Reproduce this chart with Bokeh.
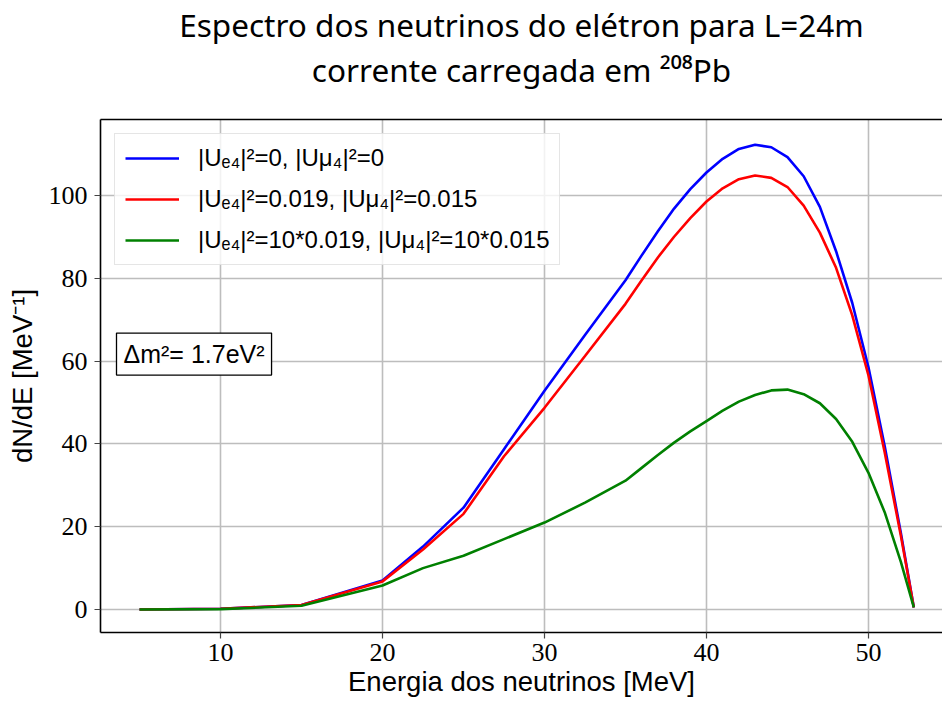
from bokeh.plotting import figure
from bokeh.models import (Range1d, FixedTicker, Label, Legend, LegendItem, LinearAxis,
                          ColumnDataSource, Title)
from bokeh.embed import file_html
from bokeh.resources import INLINE

# ---------------- data ----------------
energy = [5, 10, 15, 20, 22.5, 25, 27.5, 30, 32.5, 35, 36, 37, 38, 39, 40, 41, 42,
          43, 44, 45, 46, 47, 48, 49, 50, 51, 52, 52.8]
no_osc = [0.0, 0.2, 1.1, 7.0, 15.2, 24.6, 38.7, 52.8, 66.3, 79.5, 85.5, 91.3, 96.8,
          101.5, 105.5, 108.8, 111.2, 112.2, 111.6, 109.2, 104.6, 97.2, 86.5, 74.0,
          58.5, 39.5, 18.5, 0.5]
osc_1x = [0.0, 0.2, 1.1, 6.8, 14.5, 23.1, 37.0, 48.7, 61.2, 73.8, 79.5, 85.0, 90.0,
          94.5, 98.5, 101.7, 103.9, 104.8, 104.2, 102.0, 97.5, 91.0, 82.5, 71.0,
          56.5, 38.0, 17.8, 0.5]
osc_10x = [0.0, 0.1, 0.9, 5.8, 10.0, 13.0, 17.0, 21.0, 25.8, 31.1, 34.2, 37.3, 40.3,
           43.0, 45.5, 48.0, 50.2, 51.8, 52.9, 53.1, 52.0, 49.8, 46.0, 40.5, 33.0,
           23.5, 11.5, 0.5]

labels = ["|Uₑ₄|²=0, |Uμ₄|²=0",
          "|Uₑ₄|²=0.019, |Uμ₄|²=0.015",
          "|Uₑ₄|²=10*0.019, |Uμ₄|²=10*0.015"]
colors = ["#0000ff", "#ff0000", "#008000"]
x_ticks = [10, 20, 30, 40, 50]
y_ticks = [0, 20, 40, 60, 80, 100]

title1 = "Espectro dos neutrinos do elétron para L=24m"
title2 = "corrente carregada em ²⁰⁸Pb"
xlabel = "Energia dos neutrinos [MeV]"
ylabel = "dN/dE [MeV⁻¹]"
box_text = "Δm²= 1.7eV²"

# ---------------- layout ----------------
X0, X1 = 2.59, 54.57
Y0, Y1 = -5.54, 118.3
W, H = 942, 702
FL, FR, FT, FB = 100, 942, 118, 632   # frame in figure pixels


def dx(px):
    return X0 + (px - FL) / (FR - FL) * (X1 - X0)


def dy(py):
    return Y1 - (py - FT) / (FB - FT) * (Y1 - Y0)


p = figure(width=W, height=H, output_backend="svg", toolbar_location=None, title=None,
           x_range=Range1d(X0, X1), y_range=Range1d(Y0, Y1),
           min_border_left=FL, min_border_right=W - FR,
           min_border_top=FT, min_border_bottom=H - FB)
p.outline_line_color = None
p.background_fill_color = "white"
p.border_fill_color = "white"

src = ColumnDataSource(dict(x=energy, a=no_osc, b=osc_1x, c=osc_10x))
renderers = []
for col, color in zip(["a", "b", "c"], colors):
    r = p.line("x", col, source=src, line_color=color, line_width=2.6)
    renderers.append(r)

# grid
for g in (p.xgrid, p.ygrid):
    g.grid_line_color = "#bdbdbd"
    g.grid_line_width = 1.6
p.xaxis.ticker = FixedTicker(ticks=x_ticks)
p.yaxis.ticker = FixedTicker(ticks=y_ticks)

for ax in (p.xaxis, p.yaxis):
    ax.axis_line_color = "black"
    ax.axis_line_width = 1.6
    ax.major_tick_out = 6
    ax.major_tick_in = 0
    ax.major_tick_line_color = "#444444"
    ax.major_tick_line_width = 1.2
    ax.minor_tick_line_color = None
    ax.major_label_text_font = "Liberation Serif"
    ax.major_label_text_font_size = "26px"
    ax.major_label_text_color = "black"
    ax.axis_label_text_font = "Liberation Sans"
    ax.axis_label_text_font_size = "27.5px"
    ax.axis_label_text_font_style = "normal"
    ax.axis_label_text_color = "black"

p.yaxis.major_label_standoff = 7
p.yaxis.axis_label = ylabel
p.yaxis.axis_label_standoff = 8

p.xaxis.major_label_standoff = 5
p.xaxis.axis_label = xlabel
p.xaxis.axis_label_standoff = 2

# top spine (also acts as spacer between frame and titles)
top = LinearAxis(ticker=FixedTicker(ticks=[]), axis_line_color="black", axis_line_width=1.6,
                 major_tick_out=0, major_tick_in=0, major_label_standoff=0,
                 major_tick_line_color=None, minor_tick_line_color=None,
                 major_label_text_font_size="0px",
                 axis_label=" ", axis_label_text_font_size="20px", axis_label_standoff=4)
p.add_layout(top, "above")

# titles (first added sits closest to the frame)
p.add_layout(Title(text=title2, align="center", text_font="Noto Sans",
                   text_font_size="31.5px", text_font_style="normal", text_color="black",
                   standoff=0), "above")
p.add_layout(Title(text=title1, align="center", text_font="Noto Sans",
                   text_font_size="31.5px", text_font_style="normal", text_color="black",
                   standoff=0), "above")

# legend
legend = Legend(items=[LegendItem(label=l, renderers=[r]) for l, r in zip(labels, renderers)],
                location="top_left", margin=14, padding=10, spacing=13,
                glyph_width=54, glyph_height=28, label_height=28, label_standoff=19,
                label_text_font="Liberation Sans", label_text_font_size="24px",
                label_text_color="black",
                border_line_color="#cccccc", border_line_width=1.5,
                background_fill_color="white", background_fill_alpha=0.8)
p.add_layout(legend, "center")

# Δm² annotation box
p.add_layout(Label(x=dx(116), y=dy(353), text=box_text, text_align="left",
                   text_baseline="middle", text_font="Liberation Sans",
                   text_font_size="25px", text_color="black", padding=7,
                   border_line_color="black", border_line_width=1.3,
                   background_fill_color="white"))

open("out.html", "w").write(file_html(p, INLINE))
